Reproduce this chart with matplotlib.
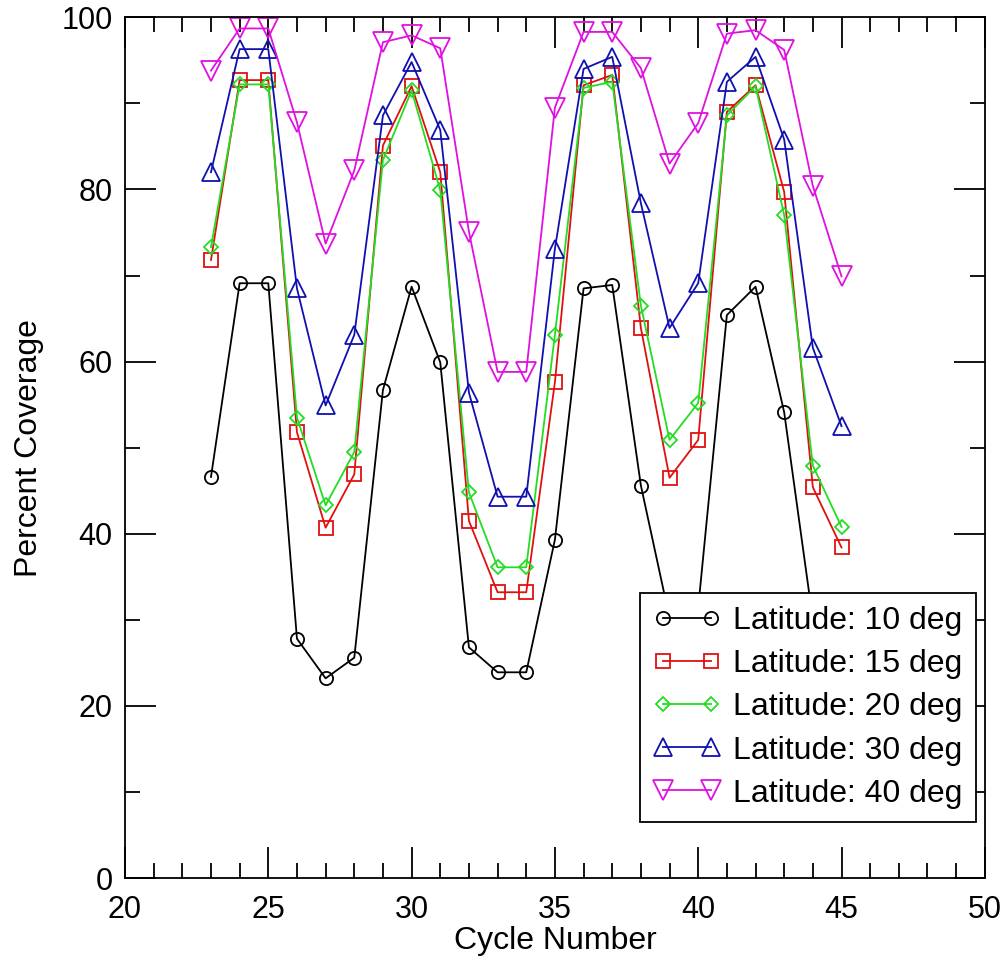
import matplotlib
matplotlib.use("Agg")
import matplotlib.pyplot as plt
from matplotlib.ticker import MultipleLocator

plt.rcParams['font.family'] = ['Liberation Sans', 'DejaVu Sans']

cycles = list(range(23, 46))
lat10 = [46.6, 69.1, 69.1, 27.8, 23.2, 25.6, 56.7, 68.7, 59.9, 26.8, 23.9, 23.9,
         39.3, 68.5, 68.9, 45.6, 30.2, 31.4, 65.4, 68.7, 54.1, 30.0, 23.0]
lat15 = [71.8, 92.7, 92.7, 51.8, 40.7, 46.9, 85.1, 92.0, 82.0, 41.5, 33.2, 33.2,
         57.6, 92.1, 93.3, 63.9, 46.5, 50.9, 89.0, 92.1, 79.7, 45.4, 38.4]
lat20 = [73.3, 92.2, 92.2, 53.5, 43.3, 49.5, 83.4, 91.5, 79.9, 44.8, 36.1, 36.1,
         63.1, 91.8, 92.5, 66.5, 50.9, 55.2, 88.6, 92.0, 77.0, 47.9, 40.8]
lat30 = [82.0, 96.3, 96.3, 68.5, 54.9, 63.1, 88.6, 94.8, 86.9, 56.4, 44.3, 44.3,
         73.1, 94.0, 95.4, 78.4, 63.9, 69.1, 92.5, 95.4, 85.8, 61.6, 52.5]
lat40 = [93.8, 98.7, 98.7, 87.8, 73.7, 82.2, 97.1, 97.9, 96.4, 75.1, 58.8, 58.8,
         89.5, 98.3, 98.3, 94.1, 83.0, 87.7, 98.1, 98.5, 96.2, 80.4, 69.9]
labels = ['Latitude: 10 deg', 'Latitude: 15 deg', 'Latitude: 20 deg',
          'Latitude: 30 deg', 'Latitude: 40 deg']

fig = plt.figure(figsize=(10.08, 9.6), dpi=100)
ax = fig.add_axes([0.124, 0.0854, 0.853, 0.8966])

styles = [
    dict(color='black', marker='o', ms=9.5),
    dict(color='#e01010', marker='s', ms=10.5),
    dict(color='#22dd22', marker='D', ms=7.5),
    dict(color='#1010b0', marker='^', ms=13),
    dict(color='#e010e0', marker='v', ms=14),
]
for vals, lab, st in zip([lat10, lat15, lat20, lat30, lat40], labels, styles):
    ax.plot(cycles, vals, color=st['color'], lw=1.3, marker=st['marker'],
            ms=st['ms'], mfc='none', mec=st['color'], mew=1.3, label=lab)

ax.set_xlim(20, 50)
ax.set_ylim(0, 100)
ax.xaxis.set_major_locator(MultipleLocator(5))
ax.xaxis.set_minor_locator(MultipleLocator(1))
ax.yaxis.set_major_locator(MultipleLocator(20))
ax.yaxis.set_minor_locator(MultipleLocator(10))
ax.tick_params(which='both', direction='in', top=True, right=True, width=1.3,
               labelsize=22)
ax.tick_params(axis='x', which='both', pad=12)
ax.tick_params(axis='y', which='both', pad=9)
ax.tick_params(which='major', length=22)
ax.tick_params(which='minor', length=11)
for s in ax.spines.values():
    s.set_linewidth(1.3)
ax.set_xlabel('Cycle Number', fontsize=23)
ax.set_ylabel('Percent Coverage', fontsize=23)
ax.xaxis.set_label_coords(0.5, -0.056)
ax.yaxis.set_label_coords(-0.094, 0.5)

leg = ax.legend(loc='lower right', bbox_to_anchor=(0.99, 0.065), borderaxespad=0,
                fontsize=23, numpoints=2, handlelength=2.1, handletextpad=0.4,
                labelspacing=0.41, fancybox=False, framealpha=1,
                edgecolor='black', borderpad=0.42)
leg.get_frame().set_linewidth(1.3)

fig.savefig('out.png', dpi=100)
